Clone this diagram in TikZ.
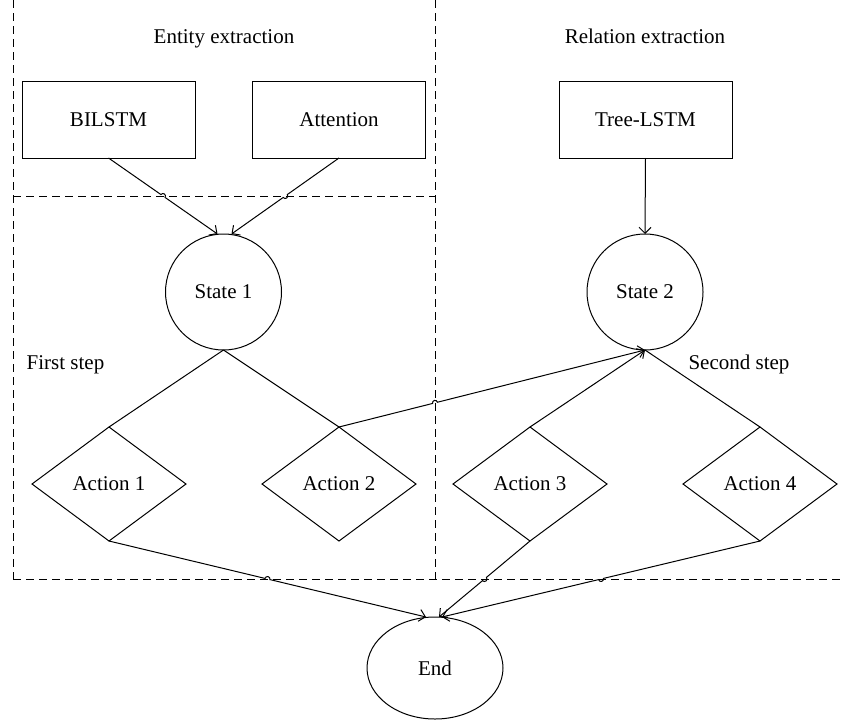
\documentclass[tikz,border=0pt]{standalone}
\usepackage{fontspec}
\setmainfont{Liberation Serif}
\usetikzlibrary{arrows.meta,shapes.geometric,calc,intersections}
\newcommand\hopdraw[4]{%
  \draw[#1] let \p1=($(#4)-(#2)$), \n1={atan2(\y1,\x1)} in
    (#2) -- ($(#3)!2.5pt!(#2)$) arc[start angle=\n1+180, delta angle=-180, radius=2.5pt] -- (#4);}
\begin{document}
\begin{tikzpicture}[x=1pt,y=-1pt,
  every node/.style={font=\fontsize{21}{25}\selectfont},
  box/.style={draw, line width=1pt, minimum width=173pt, minimum height=77pt, inner sep=0pt, outer sep=0pt},
  state/.style={draw, line width=1pt, circle, minimum size=116pt, inner sep=0pt, outer sep=0pt},
  act/.style={draw, line width=1pt, diamond, minimum width=154pt, minimum height=114pt, inner sep=0pt, outer sep=0pt},
  endnode/.style={draw, line width=1pt, ellipse, minimum width=136pt, minimum height=102pt, inner sep=0pt, outer sep=0pt},
  region/.style={line width=1pt, dash pattern=on 8pt off 5pt},
  conn/.style={line width=1pt},
  arr/.style={conn, -{Straight Barb[length=6pt,width=12pt]}},
  lbl/.style={anchor=base}]
\useasboundingbox (0,0) rectangle (843,720);
% regions
\draw[region, name path=vleft] (13,0) -- (13,579);
\draw[region, name path=vmid] (435,0) -- (435,579);
\draw[region, name path=htop] (13,196) -- (435,196);
\draw[region, name path=hbot] (13,579) -- (843,579);
% labels
\node[lbl] (tEnt) at (224,43) {Entity extraction};
\node[lbl] (tRel) at (645,43) {Relation extraction};
\node[lbl] (tFirst) at (65.5,369) {First step};
\node[lbl] (tSecond) at (739,369) {Second step};
% nodes
\node[box] (bilstm) at (108.5,119.5) {BILSTM};
\node[box] (att) at (339,119.5) {Attention};
\node[box] (tree) at (645.5,119.5) {Tree-LSTM};
\node[state] (s1) at (223.5,292) {State 1};
\node[state] (s2) at (645,292) {State 2};
\node[act] (a1) at (109,484) {Action 1};
\node[act] (a2) at (339,484) {Action 2};
\node[act] (a3) at (530,484) {Action 3};
\node[act] (a4) at (760,484) {Action 4};
\node[endnode] (fin) at (435,668) {End};
% connector end points
\coordinate (s1a) at ([xshift=-6pt]s1.north);
\coordinate (s1b) at ([xshift=8pt]s1.north);
\coordinate (fa) at ([xshift=-9pt]fin.north);
\coordinate (fb) at ([xshift=4pt]fin.north);
\coordinate (fc) at ([xshift=7pt]fin.north);
% crossing points
\path[name path=p1] (bilstm.south) -- (s1a);
\path[name path=p2] (att.south) -- (s1b);
\path[name path=p3] (a2.north) -- (s2.south);
\path[name path=p4] (a1.south) -- (fa);
\path[name path=p5] (a3.south) -- (fb);
\path[name path=p6] (a4.south) -- (fc);
\path[name intersections={of=p1 and htop, by=h1}];
\path[name intersections={of=p2 and htop, by=h2}];
\path[name intersections={of=p3 and vmid, by=h3}];
\path[name intersections={of=p4 and hbot, by=h4}];
\path[name intersections={of=p5 and hbot, by=h5}];
\path[name intersections={of=p6 and hbot, by=h6}];
% connectors
\hopdraw{arr}{bilstm.south}{h1}{s1a}
\hopdraw{arr}{att.south}{h2}{s1b}
\draw[arr] (tree.south) -- (s2.north);
\draw[conn] (s1.south) -- (a1.north);
\draw[conn] (s1.south) -- (a2.north);
\hopdraw{arr}{a2.north}{h3}{s2.south}
\draw[arr] (a3.north) -- (s2.south);
\draw[conn] (s2.south) -- (a4.north);
\hopdraw{arr}{a1.south}{h4}{fa}
\hopdraw{arr}{a3.south}{h5}{fb}
\hopdraw{arr}{a4.south}{h6}{fc}
\end{tikzpicture}
\end{document}
